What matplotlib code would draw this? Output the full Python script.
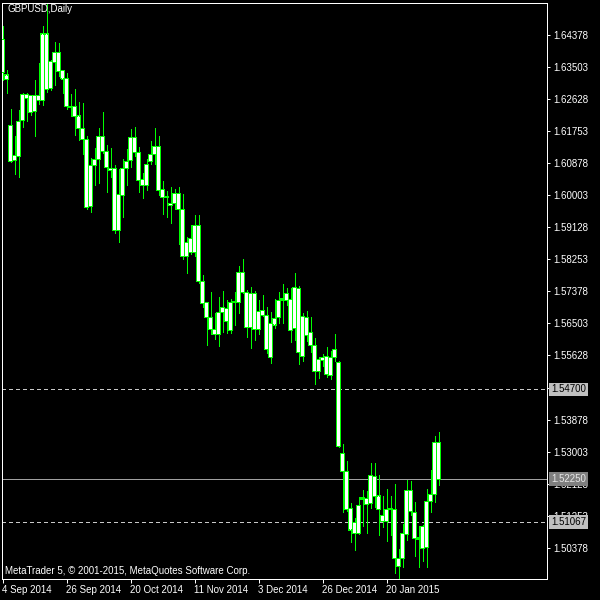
import matplotlib
matplotlib.use("Agg")
import matplotlib.pyplot as plt

# ---- data (GBPUSD daily, 4 Sep 2014 .. 6 Feb 2015) ----
opens = [1.6425, 1.6329, 1.6190, 1.6095, 1.6106, 1.6204, 1.6276, 1.6272, 1.6229, 1.6272,
         1.6259, 1.6441, 1.6291, 1.6363, 1.6391, 1.6340, 1.6320, 1.6244, 1.6244, 1.6217,
         1.6183, 1.6152, 1.5969, 1.6081, 1.6098, 1.6162, 1.6121, 1.6074, 1.6074, 1.5904,
         1.6001, 1.6074, 1.6095, 1.6159, 1.6118, 1.6044, 1.6026, 1.6092, 1.6112, 1.6135,
         1.6015, 1.5997, 1.5979, 1.5979, 1.6006, 1.5962, 1.5833, 1.5883, 1.5844, 1.5917,
         1.5764, 1.5707, 1.5667, 1.5634, 1.5621, 1.5681, 1.5692, 1.5630, 1.5707, 1.5707,
         1.5790, 1.5735, 1.5640, 1.5731, 1.5635, 1.5685, 1.5671, 1.5558, 1.5646, 1.5666,
         1.5714, 1.5733, 1.5716, 1.5636, 1.5746, 1.5559, 1.5667, 1.5626, 1.5591, 1.5519,
         1.5549, 1.5560, 1.5509, 1.5558, 1.5544, 1.5296, 1.5245, 1.5145, 1.5077, 1.5077,
         1.5170, 1.5173, 1.5159, 1.5232, 1.5179, 1.5127, 1.5109, 1.5143, 1.5141, 1.5009,
         1.5009, 1.5074, 1.5193, 1.5134, 1.5065, 1.5036, 1.5038, 1.5165, 1.5182, 1.5326]
highs = [1.6463, 1.6343, 1.6236, 1.6161, 1.6233, 1.6281, 1.6279, 1.6274, 1.6315, 1.6363,
         1.6463, 1.6526, 1.6370, 1.6420, 1.6417, 1.6343, 1.6335, 1.6277, 1.6291, 1.6256,
         1.6253, 1.6162, 1.6102, 1.6130, 1.6184, 1.6229, 1.6138, 1.6129, 1.6083, 1.6072,
         1.6099, 1.6126, 1.6182, 1.6186, 1.6133, 1.6061, 1.6099, 1.6149, 1.6183, 1.6162,
         1.6039, 1.6013, 1.6022, 1.6018, 1.6022, 1.6003, 1.5887, 1.5919, 1.5947, 1.5947,
         1.5783, 1.5710, 1.5735, 1.5680, 1.5722, 1.5739, 1.5714, 1.5716, 1.5735, 1.5807,
         1.5826, 1.5742, 1.5749, 1.5739, 1.5714, 1.5728, 1.5696, 1.5681, 1.5716, 1.5737,
         1.5758, 1.5748, 1.5748, 1.5788, 1.5753, 1.5680, 1.5684, 1.5667, 1.5610, 1.5558,
         1.5566, 1.5585, 1.5575, 1.5622, 1.5548, 1.5321, 1.5275, 1.5159, 1.5120, 1.5177,
         1.5195, 1.5193, 1.5270, 1.5270, 1.5236, 1.5179, 1.5198, 1.5179, 1.5212, 1.5033,
         1.5102, 1.5223, 1.5220, 1.5163, 1.5097, 1.5100, 1.5197, 1.5250, 1.5343, 1.5353]
lows = [1.6315, 1.6281, 1.6090, 1.6059, 1.6051, 1.6186, 1.6202, 1.6220, 1.6162, 1.6250,
        1.6247, 1.6283, 1.6288, 1.6302, 1.6326, 1.6279, 1.6235, 1.6217, 1.6165, 1.6152,
        1.6113, 1.5962, 1.5955, 1.6029, 1.6033, 1.6115, 1.6008, 1.6051, 1.5898, 1.5874,
        1.5942, 1.6029, 1.6079, 1.6108, 1.6010, 1.5994, 1.6015, 1.6086, 1.6086, 1.6001,
        1.5949, 1.5942, 1.5926, 1.5962, 1.5867, 1.5826, 1.5789, 1.5840, 1.5835, 1.5760,
        1.5694, 1.5591, 1.5621, 1.5607, 1.5589, 1.5628, 1.5625, 1.5625, 1.5646, 1.5680,
        1.5733, 1.5614, 1.5584, 1.5605, 1.5621, 1.5670, 1.5569, 1.5541, 1.5637, 1.5652,
        1.5652, 1.5701, 1.5600, 1.5605, 1.5540, 1.5548, 1.5602, 1.5573, 1.5485, 1.5502,
        1.5534, 1.5505, 1.5499, 1.5549, 1.5312, 1.5136, 1.5139, 1.5054, 1.5031, 1.5075,
        1.5097, 1.5077, 1.5145, 1.5148, 1.5072, 1.5093, 1.5057, 1.5072, 1.4969, 1.4952,
        1.4986, 1.5059, 1.5127, 1.5015, 1.4986, 1.5002, 1.4986, 1.5136, 1.5163, 1.5209]
closes = [1.6337, 1.6317, 1.6092, 1.6108, 1.6203, 1.6277, 1.6265, 1.6227, 1.6272, 1.6259,
          1.6441, 1.6288, 1.6365, 1.6391, 1.6338, 1.6318, 1.6243, 1.6240, 1.6215, 1.6183,
          1.6152, 1.5968, 1.6083, 1.6099, 1.6162, 1.6120, 1.6076, 1.6068, 1.5904, 1.6003,
          1.6074, 1.6094, 1.6159, 1.6117, 1.6042, 1.6027, 1.6085, 1.6112, 1.6135, 1.6013,
          1.5995, 1.5994, 1.5972, 1.6006, 1.5962, 1.5833, 1.5871, 1.5844, 1.5917, 1.5764,
          1.5705, 1.5667, 1.5634, 1.5621, 1.5681, 1.5694, 1.5655, 1.5707, 1.5709, 1.5790,
          1.5735, 1.5640, 1.5731, 1.5635, 1.5682, 1.5671, 1.5578, 1.5651, 1.5664, 1.5712,
          1.5719, 1.5712, 1.5631, 1.5749, 1.5570, 1.5669, 1.5617, 1.5590, 1.5519, 1.5551,
          1.5558, 1.5512, 1.5558, 1.5580, 1.5314, 1.5245, 1.5141, 1.5086, 1.5106, 1.5152,
          1.5175, 1.5156, 1.5234, 1.5177, 1.5143, 1.5109, 1.5143, 1.5141, 1.5009, 1.4986,
          1.5077, 1.5195, 1.5136, 1.5063, 1.5061, 1.5095, 1.5165, 1.5182, 1.5326, 1.5225]

date_labels = ["4 Sep 2014", "26 Sep 2014", "20 Oct 2014", "11 Nov 2014",
               "3 Dec 2014", "26 Dec 2014", "20 Jan 2015"]
date_positions = [0, 16, 32, 48, 64, 80, 96]

price_ticks = [1.64378, 1.63503, 1.62628, 1.61753, 1.60878, 1.60003, 1.59128, 1.58253,
               1.57378, 1.56503, 1.55628, 1.54753, 1.53878, 1.53003, 1.52128, 1.51253,
               1.50378]
dashed_levels = [1.54700, 1.51067]
current_price = 1.52250

title = "GBPUSD,Daily"
copyright_text = "MetaTrader 5, \u00a9 2001-2015, MetaQuotes Software Corp."

# ---- drawing ----
FONT = "Liberation Sans"
FS = 7
GREEN = "#00ff00"
PX = 0.72  # one pixel in points at dpi 100

YMIN, YMAX = 1.49522, 1.6527
AX_H_PX = 579 - 2.5
fig = plt.figure(figsize=(6, 6), dpi=100, facecolor="black")
ax = fig.add_axes([2 / 600, 1 - 579 / 600, 545 / 600, AX_H_PX / 600])
ax.set_facecolor("black")
unit_px = (YMAX - YMIN) / AX_H_PX  # price per screen pixel

n = len(opens)
xs = list(range(n))
ax.vlines(xs, lows, highs, color=GREEN, linewidth=PX, zorder=2, antialiased=False)
bottoms = [min(o, c) for o, c in zip(opens, closes)]
heights = [max(abs(c - o), unit_px) for o, c in zip(opens, closes)]
# green outer body (3 px wide) with a white core (1 px wide) inset by one pixel
ax.bar(xs, heights, bottom=bottoms, width=0.875, color=GREEN, linewidth=0,
       zorder=3, antialiased=False, snap=False)
inner_b = [b + unit_px for b in bottoms]
inner_h = [max(h - 2 * unit_px, 0) for h in heights]
ax.bar(xs, inner_h, bottom=inner_b, width=0.3, color="white", linewidth=0,
       zorder=4, antialiased=False, snap=False)

for lvl in dashed_levels:
    ax.axhline(lvl, color="#c8c8c8", linewidth=PX, dashes=(4, 3), zorder=1,
               antialiased=False)
ax.axhline(current_price, color="#a0a0a0", linewidth=PX, zorder=1, antialiased=False)

ax.set_xlim(-0.125, 136.125)
ax.set_ylim(YMIN, YMAX)

for s in ax.spines.values():
    s.set_color("white")
    s.set_linewidth(PX)

ax.yaxis.tick_right()
ax.set_yticks(price_ticks)
# the 1.54753 label sits fully behind the 1.54700 marker box in the terminal
ax.set_yticklabels(["" if abs(p - dashed_levels[0]) < 0.0006 else f"{p:.5f}"
                    for p in price_ticks])
ax.tick_params(axis="y", colors="white", length=3 * PX, width=PX, pad=2.5,
               labelsize=FS, labelfontfamily=FONT)
ax.set_xticks(date_positions)
ax.set_xticklabels(date_labels, ha="left")
ax.tick_params(axis="x", colors="white", length=4 * PX, width=PX, pad=1.5,
               labelsize=FS, labelfontfamily=FONT)
for lbl in ax.get_xticklabels():
    lbl.set_horizontalalignment("left")

# price boxes on the right scale
box_specs = [(dashed_levels[0], "#c0c0c0", "black"),
             (dashed_levels[1], "#c0c0c0", "black"),
             (current_price, "#7f7f7f", "#e6e6e6")]
for val, bg, fg in box_specs:
    ax.text(1.0 + 4 / 545, val, f"{val:.5f}", transform=ax.get_yaxis_transform(),
            ha="left", va="center", fontsize=FS, family=FONT, color=fg,
            bbox=dict(boxstyle="square,pad=0.2", facecolor=bg, edgecolor="none"),
            clip_on=False, zorder=10)

ax.text(5 / 545, 1 - 7 / AX_H_PX, title, transform=ax.transAxes, ha="left", va="center",
        fontsize=FS, family=FONT, color="white", zorder=10)
ax.text(3 / 545, 8.5 / AX_H_PX, copyright_text, transform=ax.transAxes, ha="left",
        va="center", fontsize=FS, family=FONT, color="white", zorder=10)

fig.savefig("out.png", dpi=100, facecolor="black")
